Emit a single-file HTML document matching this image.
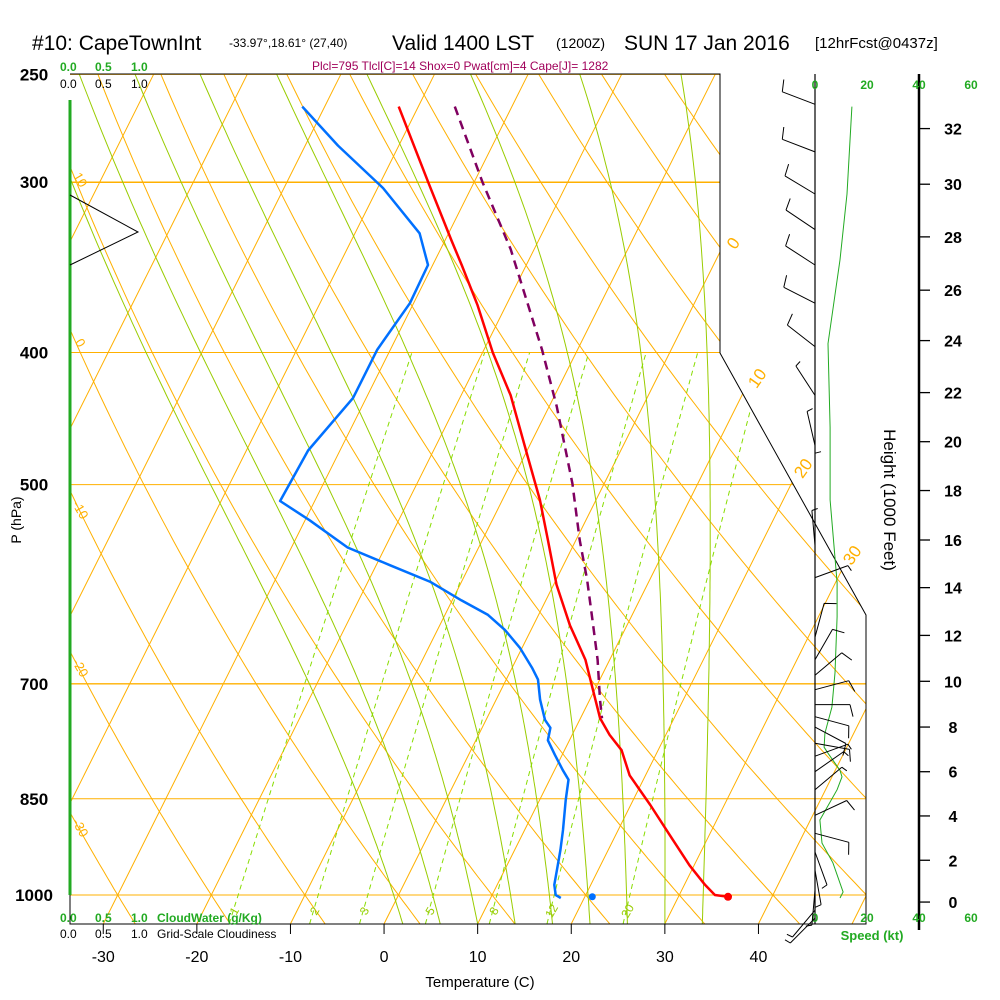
<!DOCTYPE html>
<html><head><meta charset="utf-8"><style>
html,body{margin:0;padding:0;background:#fff;}
svg{display:block;font-family:"Liberation Sans",Arial,sans-serif;}
</style></head><body>
<svg id="chart" width="1000" height="1000" viewBox="0 0 1000 1000" xmlns="http://www.w3.org/2000/svg">
<defs><clipPath id="plotclip"><polygon points="70,74 720,74 720,353 866,615 866,924 70,924"/></clipPath></defs>
<g id="title">
<text x="32" y="50" font-size="21" fill="#000">#10: CapeTownInt</text>
<text x="229" y="47" font-size="12" fill="#000">-33.97°,18.61° (27,40)</text>
<text x="392" y="50" font-size="21" fill="#000">Valid 1400 LST</text>
<text x="556" y="48" font-size="14" fill="#000">(1200Z)</text>
<text x="624" y="50" font-size="21" fill="#000">SUN 17 Jan 2016</text>
<text x="815" y="48" font-size="15" fill="#000">[12hrFcst@0437z]</text>
</g>
<text x="312" y="70" font-size="12" fill="#a0005a">Plcl=795 Tlcl[C]=14 Shox=0 Pwat[cm]=4 Cape[J]= 1282</text>
<g id="grid" clip-path="url(#plotclip)"></g>
<g id="frame">
<polyline points="70,74 720,74 720,353 866,615 866,924 70,924 70,895" fill="none" stroke="#000" stroke-width="1"/>
<line x1="70" y1="100" x2="70" y2="895" stroke="#22aa22" stroke-width="3"/>
<line x1="815" y1="74" x2="815" y2="924" stroke="#000" stroke-width="1.2"/>
<line x1="919" y1="74" x2="919" y2="930" stroke="#000" stroke-width="2.5"/>
<polyline points="70,195 138,232 70,265" fill="none" stroke="#000" stroke-width="1"/>
</g>
<g id="labels" font-size="13">
<text y="71" fill="#22aa22" font-size="12" font-weight="bold"><tspan x="60">0.0</tspan><tspan x="95">0.5</tspan><tspan x="131">1.0</tspan></text>
<text y="88" fill="#000" font-size="12"><tspan x="60">0.0</tspan><tspan x="95">0.5</tspan><tspan x="131">1.0</tspan></text>
<text y="922" fill="#22aa22" font-size="12" font-weight="bold"><tspan x="60">0.0</tspan><tspan x="95">0.5</tspan><tspan x="131">1.0</tspan><tspan x="157">CloudWater (g/Kg)</tspan></text>
<text y="938" fill="#000" font-size="12"><tspan x="60">0.0</tspan><tspan x="95">0.5</tspan><tspan x="131">1.0</tspan><tspan x="157">Grid-Scale Cloudiness</tspan></text>
<text x="480" y="987" font-size="15" text-anchor="middle">Temperature (C)</text>
<text transform="translate(21,520) rotate(-90)" font-size="14" text-anchor="middle">P (hPa)</text>
<text transform="translate(884,500) rotate(90)" font-size="17" text-anchor="middle">Height (1000 Feet)</text>
<text x="872" y="940" fill="#22aa22" font-size="13" font-weight="bold" text-anchor="middle">Speed (kt)</text>
</g>
<g id="dyn"></g>
</svg>
<script>
// ---- data ----
const pressureTicks=[250,300,400,500,700,850,1000];
const tempTicks=[-30,-20,-10,0,10,20,30,40];
const mixRatios=[1,2,3,5,8,12,20];
const moistStart1050=[2,6,10,14,18,22,26,30,34];
const heightTicksKft=[0,2,4,6,8,10,12,14,16,18,20,22,24,26,28,30,32];
const heightTicksP=[1012,943,875,812,753,697,645,595,549,505,465,428,392,360,329,301,274];
const speedTicks=[0,20,40,60];
const tempP=[264,300,331,345,369,400,430,478,513,549,592,634,672,719,742,763,783,817,859,904,951,983,1000,1003];
const tempT=[-42.1,-34.9,-29.3,-26.9,-23.1,-18.9,-14.7,-9.5,-6.0,-3.0,0.3,3.9,7.4,10.6,12.1,14.0,16.1,18.3,22.1,25.8,29.5,32.2,33.8,35.3];
const dewP=[264,282,303,327,345,368,398,432,472,514,531,556,573,589,608,623,639,659,682,695,719,744,754,770,789,810,823,852,896,927,959,983,1000,1005];
const dewT=[-52.4,-46.5,-39.4,-33.1,-30.5,-30.4,-31.4,-31.4,-33.4,-33.7,-29.5,-24.0,-18.5,-13.4,-9.0,-5.4,-2.8,-0.2,2.2,3.4,4.7,6.3,7.3,7.7,9.2,10.9,12.0,12.8,14.1,14.9,15.6,16.1,16.8,17.5];
const parcelP=[264,300,336,398,438,499,549,587,628,672,719,742];
const parcelT=[-36.1,-29.1,-22.5,-13.8,-9.2,-3.4,0.4,3.3,6.0,8.7,11.1,12.3];
const sfcP=1003, sfcT=35.3, sfcTd=20.8;
const windP=[263,285,306,325,345,368,396,430,468,503,554,585,647,672,690,707,725,740,753,774,791,812,837,874,901,930,959,992,1026,1040];
const windDir=[291,291,301,304,303,297,308,327,347,0,355,70,15,30,50,75,90,105,118,100,70,55,50,65,105,160,170,185,220,225];
const windSpd=[10,10,10,12,12,12,8,6,5,5,5,5,10,12,12,10,10,10,10,10,5,5,5,10,10,5,5,5,5,5];
const spdP=[264,306,342,394,454,513,590,625,687,728,761,779,787,810,819,837,881,916,947,995,1005];
const spdKt=[14.2,12.3,9.6,5.0,5.8,5.8,8.5,8.5,7.7,6.5,3.8,3.5,5.0,9.6,10.4,8.5,1.9,2.7,6.9,10.8,9.6];

// ---- axes ----
const Y=p=>895-592*Math.log(1000/p);
const X=(T,p)=>384+9.36*T+0.5*(924-Y(p));
const SX=s=>815+2.6*s;
const NS='http://www.w3.org/2000/svg';
const grid=document.getElementById('grid'), dyn=document.getElementById('dyn');
function el(tag,attrs,parent){const e=document.createElementNS(NS,tag);for(const k in attrs)e.setAttribute(k,attrs[k]);(parent||dyn).appendChild(e);return e;}
function path(pts){return pts.map((q,i)=>(i?'L':'M')+q[0].toFixed(1)+','+q[1].toFixed(1)).join('');}
const ORANGE='#ffb000';

pressureTicks.forEach(p=>{
  const l=el('line',{x1:70,x2:866,y1:Y(p),y2:Y(p),stroke:ORANGE,'stroke-width':(p==300||p==700)?1.4:1},grid);
  
  
  const t=el('text',{x:34,y:Y(p)+6,'font-size':17,'font-weight':'bold','text-anchor':'middle',fill:'#000'});
  t.textContent=p;
  
  
});
for(let T=-110;T<=50;T+=10){
  const l=el('line',{x1:X(T,1050),y1:Y(1050),x2:X(T,250),y2:Y(250),stroke:ORANGE,'stroke-width':1},grid);
  
  
}
for(let th=-40;th<=130;th+=10){
  const pts=[];for(let p=1050;p>=250;p-=10){pts.push([X((th+273.15)*Math.pow(p/1000,0.286)-273.15,p),Y(p)]);}
  const l=el('path',{d:path(pts),fill:'none',stroke:ORANGE,'stroke-width':1},grid);
  
  
}
function rs(T,p){const e=6.112*Math.exp(17.67*T/(T+243.5));return 0.622*e/(p-e);}
function dTdp(T,p){const Tk=T+273.15,r=rs(T,p);return (287*Tk+2.5e6*r)/(1005+2.5e6*2.5e6*r*0.622/(287*Tk*Tk))/p;}
moistStart1050.forEach(t0=>{
  const pts=[];let T=t0;
  for(let p=1050;p>=250;p-=5){pts.push([X(T,p),Y(p)]);const k1=dTdp(T,p),k2=dTdp(T-5*k1,p-5);T-=2.5*(k1+k2);}
  const l=el('path',{d:path(pts),fill:'none',stroke:'#99cc00','stroke-width':1},grid);
  
  
});
function tw_w(w,p){const e=w*p/(622+w),a=Math.log(e/6.112);return 243.5*a/(17.67-a);}
mixRatios.forEach(w=>{
  const pts=[];for(let p=1050;p>=400;p-=10)pts.push([X(tw_w(w,p),p),Y(p)]);
  const l=el('path',{d:path(pts),fill:'none',stroke:'#88dd00','stroke-width':1,'stroke-dasharray':'5,4'},grid);
  
  
  const x=X(tw_w(w,1035),1035)+6;
  const t=el('text',{x:x,y:913,'font-size':12,fill:'#99cc00',transform:`rotate(-60 ${x} 913)`,'text-anchor':'middle'});
  t.textContent=w;
  
  
});
[[0,243,733],[10,378,757],[20,468,803],[30,555,852]].forEach(a=>{
  const t=el('text',{x:a[2],y:a[1]+6,'font-size':17,fill:ORANGE,'text-anchor':'middle',transform:`rotate(-55 ${a[2]} ${a[1]})`});
  t.textContent=a[0];
  
  
});
[[10,180],[0,343],[-10,510],[-20,668],[-30,828]].forEach(a=>{
  const t=el('text',{x:80,y:a[1]+4,'font-size':13,fill:ORANGE,'text-anchor':'middle',transform:`rotate(60 80 ${a[1]})`});
  t.textContent=a[0];
  
  
});
tempTicks.forEach(T=>{
  const x=X(T,1050);
  const l=el('line',{x1:x,x2:x,y1:924,y2:934,stroke:'#000'});
  
  
  const t=el('text',{x:x,y:962,'font-size':16,'text-anchor':'middle',fill:'#000'});
  t.textContent=T;
  
  
});
heightTicksKft.forEach((h,i)=>{
  const y=Y(heightTicksP[i]);
  const l=el('line',{x1:919,x2:930,y1:y,y2:y,stroke:'#000','stroke-width':1.3});
  
  
  const t=el('text',{x:953,y:y+6,'font-size':16,'font-weight':'bold','text-anchor':'middle',fill:'#000'});
  t.textContent=h;
  
  
});
speedTicks.forEach(s=>{
  [89,922].forEach(y=>{
    const t=el('text',{x:SX(s),y:y,'font-size':12,'font-weight':'bold','text-anchor':'middle',fill:'#22aa22'});
    t.textContent=s;
    
    
  });
});
const sp=el('path',{d:path(spdP.map((p,i)=>[SX(spdKt[i]),Y(p)])),fill:'none',stroke:'#22aa22','stroke-width':1});


windP.forEach((p,i)=>{
  const a=windDir[i]*Math.PI/180,dx=Math.sin(a),dy=-Math.cos(a),bx=815,by=Y(p),L=35;
  let d=`M${bx},${by.toFixed(1)}L${(bx+dx*L).toFixed(1)},${(by+dy*L).toFixed(1)}`;
  let s=windSpd[i],pos=L;const px=-dy,py=dx;
  while(s>=8){const x0=bx+dx*pos,y0=by+dy*pos;d+=`M${x0.toFixed(1)},${y0.toFixed(1)}l${(px*12+dx*3).toFixed(1)},${(py*12+dy*3).toFixed(1)}`;s-=10;pos-=5;}
  if(s>=3){const x0=bx+dx*pos,y0=by+dy*pos;d+=`M${x0.toFixed(1)},${y0.toFixed(1)}l${(px*6+dx*1.5).toFixed(1)},${(py*6+dy*1.5).toFixed(1)}`;}
  const b=el('path',{d:d,fill:'none',stroke:'#000','stroke-width':1});
  
  
});
const parcel=el('path',{d:path(parcelP.map((p,i)=>[X(parcelT[i],p),Y(p)])),fill:'none',stroke:'#800060','stroke-width':2.5,'stroke-dasharray':'9,6'});


const dew=el('path',{d:path(dewP.map((p,i)=>[X(dewT[i],p),Y(p)])),fill:'none',stroke:'#0070ff','stroke-width':2.5,'stroke-linejoin':'round'});


const tmp=el('path',{d:path(tempP.map((p,i)=>[X(tempT[i],p),Y(p)])),fill:'none',stroke:'#ff0000','stroke-width':2.5,'stroke-linejoin':'round'});


const d1=el('circle',{cx:X(sfcT,sfcP),cy:Y(sfcP),r:4,fill:'#ff0000'});


const d2=el('circle',{cx:X(sfcTd,sfcP),cy:Y(sfcP),r:3.5,fill:'#0070ff'});


</script>
</body></html>
